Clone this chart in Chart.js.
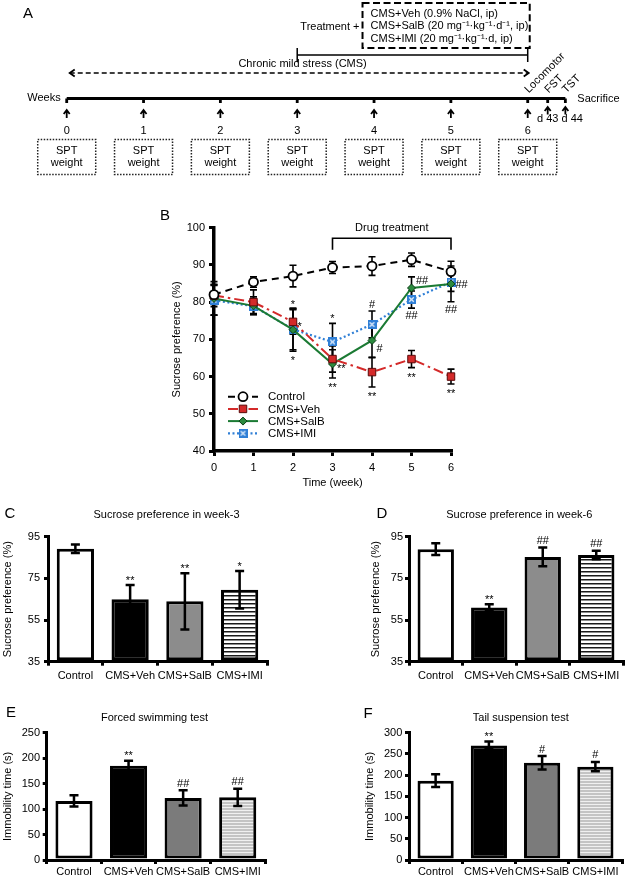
<!DOCTYPE html>
<html>
<head>
<meta charset="utf-8">
<title>CMS sucrose preference</title>
<script src="https://cdn.jsdelivr.net/npm/chart.js@4.4.1/dist/chart.umd.min.js"></script>
<style>
  html, body { margin: 0; padding: 0; background: #fff; }
  #page { position: relative; width: 630px; height: 878px; overflow: hidden; background: #fff; }
  #page canvas { position: absolute; }
</style>
</head>
<body>
<div id="page">
  <canvas id="panelA" width="630" height="180" style="left:0px;top:0px"></canvas>
  <canvas id="panelB" width="320" height="295" style="left:150px;top:200px"></canvas>
  <canvas id="panelC" width="290" height="190" style="left:0px;top:495px"></canvas>
  <canvas id="panelD" width="315" height="190" style="left:315px;top:495px"></canvas>
  <canvas id="panelE" width="290" height="188" style="left:0px;top:690px"></canvas>
  <canvas id="panelF" width="315" height="188" style="left:315px;top:690px"></canvas>
</div>
<script>
const FONT = '"Liberation Sans", Arial, sans-serif'
Chart.defaults.font.family = FONT
Chart.defaults.font.size = 11
Chart.defaults.color = '#000'
Chart.defaults.animation = false

// ---------- data ----------
const weeks = [0, 1, 2, 3, 4, 5, 6]
const groups = ['Control', 'CMS+Veh', 'CMS+SalB', 'CMS+IMI']

// A: protocol timeline
const cmsPeriod = [0, 6]
const treatmentPeriod = [3, 6]
const treatmentGroups = ['CMS+Veh (0.9% NaCl, ip)', 'CMS+SalB (20 mg\u207B\u00B9\u00B7kg\u207B\u00B9\u00B7d\u207B\u00B9, ip)', 'CMS+IMI (20 mg\u207B\u00B9\u00B7kg\u207B\u00B9\u00B7d, ip)']
const testNames = ['Locomotor', 'FST', 'TST']
const testWeek = [6, 6.26, 6.49]
const testDay = ['d 43', 'd 44']
const testDayAt = [6.26, 6.58]

// B: sucrose preference (%) per week, mean and SEM
const controlMean = [82, 85.4, 87, 89.3, 89.7, 91.4, 88.2]
const controlSem = [2.6, 1.4, 2.9, 1.6, 2.5, 1.8, 2.8]
const vehMean = [81.8, 80, 74.7, 64.7, 61.2, 64.7, 60]
const vehSem = [3, 3.3, 3.3, 3.5, 4, 2.3, 2]
const salbMean = [81, 79, 72.6, 63.4, 69.7, 83.8, 84.9]
const salbSem = [4.5, 2.4, 5.8, 3.8, 4.6, 3, 4.8]
const imiMean = [80.5, 78.9, 72.7, 69.3, 74, 80.7, 85.4]
const imiSem = [4, 2, 5.5, 5, 3.6, 2.3, 2.5]
const drugWeeks = [3, 6]

// B: significance marks (group index, week, text, where)
const weekSigGroup = [1, 1, 2, 3, 2, 2, 3, 2, 1, 2, 3, 1, 3, 2, 1]
const weekSigWeek = [2, 2, 2, 3, 3, 3, 4, 4, 4, 5, 5, 5, 6, 6, 6]
const weekSigText = ['*', '*', '*', '*', '**', '**', '#', '#', '**', '##', '##', '**', '##', '##', '**']
const weekSigPlace = ['above', 'right', 'below', 'above', 'right', 'below', 'above', 'lowRight', 'below', 'highRight', 'below', 'below', 'right', 'below', 'below']

// C - F: bar panels
const week3Mean = [89.2, 65, 64, 69.5]
const week3Sem = [2, 6.8, 13.5, 9]
const week3Sig = ['', '**', '**', '*']
const week6Mean = [89, 61, 85.3, 86.2]
const week6Sem = [2.8, 1.6, 4.5, 2]
const week6Sig = ['', '**', '##', '##']
const fstMean = [116, 185, 122, 123]
const fstSem = [11, 10, 15, 17]
const fstSig = ['', '**', '##', '##']
const tstMean = [187, 270, 229, 220]
const tstSem = [15, 9, 16, 11]
const tstSig = ['', '**', '#', '#']

// ---------- helpers ----------
function glyph(ctx, text, x, y, align) {
    ctx.textAlign = align || 'center'
    ctx.textBaseline = 'alphabetic'
    const m = ctx.measureText(text)
    ctx.fillText(text, x, y + (m.actualBoundingBoxAscent - m.actualBoundingBoxDescent) / 2)
}

function upArrow(ctx, x, top, bottom) {
    ctx.beginPath()
    ctx.moveTo(x, top)
    ctx.lineTo(x, bottom)
    ctx.moveTo(x - 3, top + 4)
    ctx.lineTo(x, top)
    ctx.lineTo(x + 3, top + 4)
    ctx.stroke()
}

function stripes(bg, fg, period, line) {
    const c = document.createElement('canvas')
    c.width = 8
    c.height = period
    const g = c.getContext('2d')
    g.fillStyle = bg
    g.fillRect(0, 0, 8, period)
    g.fillStyle = fg
    g.fillRect(0, 0, 8, line)
    return g.createPattern(c, 'repeat')
}

function imiMarker() {
    const c = document.createElement('canvas')
    c.width = 9
    c.height = 9
    const g = c.getContext('2d')
    g.fillStyle = '#2f7fd6'
    g.fillRect(0, 0, 9, 9)
    g.strokeStyle = '#d9e8f8'
    g.lineWidth = 1.4
    g.beginPath()
    g.moveTo(2.2, 2.2)
    g.lineTo(6.8, 6.8)
    g.moveTo(6.8, 2.2)
    g.lineTo(2.2, 6.8)
    g.stroke()
    return c
}

function marker(ctx, ds, x, y) {
    const r = ds.pointRadius
    ctx.save()
    ctx.setLineDash([])
    if (typeof ds.pointStyle !== 'string') {
        ctx.drawImage(ds.pointStyle, x - ds.pointStyle.width / 2, y - ds.pointStyle.height / 2)
        ctx.restore()
        return
    }
    ctx.fillStyle = ds.pointBackgroundColor
    ctx.strokeStyle = ds.pointBorderColor
    ctx.lineWidth = ds.pointBorderWidth
    ctx.beginPath()
    if (ds.pointStyle === 'circle') {
        ctx.arc(x, y, r, 0, Math.PI * 2)
    } else if (ds.pointStyle === 'rect') {
        const s = r * Math.SQRT1_2
        ctx.rect(x - s, y - s, 2 * s, 2 * s)
    } else {
        ctx.moveTo(x - r, y)
        ctx.lineTo(x, y - r)
        ctx.lineTo(x + r, y)
        ctx.lineTo(x, y + r)
        ctx.closePath()
    }
    ctx.fill()
    ctx.stroke()
    ctx.restore()
}

const axisBorder = { color: '#000', width: 3 }
const axisGrid = { drawOnChartArea: false, color: '#000', lineWidth: 3, tickWidth: 3, tickLength: 4 }

// ---------- A: timeline ----------
const timelinePlugin = {
    id: 'timeline',
    afterDraw(chart) {
        const ctx = chart.ctx
        const px = v => chart.scales.x.getPixelForValue(v)
        ctx.save()
        ctx.fillStyle = '#000'
        ctx.strokeStyle = '#000'

        ctx.font = '15px ' + FONT
        glyph(ctx, 'A', 28, 13)

        // treatment groups box
        const boxLeft = px(3.85)
        const boxRight = px(treatmentPeriod[1]) + 2
        ctx.lineWidth = 2
        ctx.setLineDash([7, 3.5])
        ctx.strokeRect(boxLeft, 3, boxRight - boxLeft, 45)
        ctx.setLineDash([])
        ctx.font = '11px ' + FONT
        ctx.textBaseline = 'middle'
        ctx.textAlign = 'left'
        treatmentGroups.forEach((t, i) => ctx.fillText(t, boxLeft + 8, 13.5 + i * 12.5))
        ctx.textAlign = 'right'
        ctx.fillText('Treatment +', boxLeft - 3, 27)

        // treatment bracket
        ctx.lineWidth = 1.5
        ctx.beginPath()
        ctx.moveTo(px(treatmentPeriod[0]), 55)
        ctx.lineTo(px(treatmentPeriod[1]), 55)
        treatmentPeriod.forEach(w => {
            ctx.moveTo(px(w), 48)
            ctx.lineTo(px(w), 62)
        })
        ctx.stroke()

        // chronic mild stress arrow
        ctx.textAlign = 'center'
        ctx.fillText('Chronic mild stress (CMS)', px(3.07), 63.5)
        const a0 = px(cmsPeriod[0]) + 3
        const a1 = px(cmsPeriod[1]) + 1
        ctx.setLineDash([5, 3])
        ctx.beginPath()
        ctx.moveTo(a0, 73)
        ctx.lineTo(a1, 73)
        ctx.stroke()
        ctx.setLineDash([])
        ctx.lineWidth = 1.8
        ctx.beginPath()
        ctx.moveTo(a0 + 5, 69.5)
        ctx.lineTo(a0, 73)
        ctx.lineTo(a0 + 5, 76.5)
        ctx.moveTo(a1 - 5, 69.5)
        ctx.lineTo(a1, 73)
        ctx.lineTo(a1 - 5, 76.5)
        ctx.stroke()

        // main time line
        const lineY = 98.5
        const end = px(testWeek[testWeek.length - 1])
        ctx.lineWidth = 2.8
        ctx.beginPath()
        ctx.moveTo(px(weeks[0]), lineY)
        ctx.lineTo(end, lineY)
        weeks.concat(testWeek.slice(1)).forEach(w => {
            ctx.moveTo(px(w), lineY)
            ctx.lineTo(px(w), lineY + 4.5)
        })
        ctx.stroke()
        ctx.textAlign = 'right'
        ctx.fillText('Weeks', px(weeks[0]) - 6, lineY - 0.5)
        ctx.textAlign = 'left'
        ctx.fillText('Sacrifice', end + 12, lineY)

        // week arrows, numbers and SPT boxes
        ctx.lineWidth = 1.8
        weeks.forEach(w => {
            const x = px(w)
            upArrow(ctx, x, 110, 118)
            ctx.textAlign = 'center'
            ctx.fillText(String(w), x, 130.5)
            ctx.save()
            ctx.lineWidth = 1.5
            ctx.strokeStyle = '#222'
            ctx.setLineDash([1.5, 1.5])
            ctx.strokeRect(x - 29, 139.5, 58, 35)
            ctx.restore()
            ctx.fillText('SPT', x, 150.5)
            ctx.fillText('weight', x, 163)
        })

        // behavioural tests
        testWeek.slice(1).forEach(w => upArrow(ctx, px(w), 107, 114.5))
        ctx.textAlign = 'center'
        testDay.forEach((d, i) => ctx.fillText(d, px(testDayAt[i]), 118.5))
        testNames.forEach((name, i) => {
            ctx.save()
            ctx.translate(px(testWeek[i]) + 1, 93.5)
            ctx.rotate(-Math.PI / 4)
            ctx.textAlign = 'left'
            ctx.textBaseline = 'alphabetic'
            ctx.fillText(name, 0, 0)
            ctx.restore()
        })
        ctx.restore()
    }
}

new Chart(document.getElementById('panelA'), {
    type: 'scatter',
    data: { datasets: [{ data: weeks.map(w => ({ x: w, y: 0 })), pointRadius: 0 }] },
    options: {
        responsive: false,
        events: [],
        layout: { padding: { left: 5.24, right: 2.4, top: 0, bottom: 0 } },
        scales: {
            x: { type: 'linear', display: false, min: -0.8, max: 7.3 },
            y: { display: false, min: 0, max: 1 },
        },
        plugins: { legend: { display: false }, tooltip: { enabled: false } },
    },
    plugins: [timelinePlugin],
})

// ---------- B: weekly sucrose preference ----------
const imiPoint = imiMarker()
const series = (label, mean, sem, style) => Object.assign({
    label: label,
    data: weeks.map((w, i) => ({ x: w, y: mean[i] })),
    sem: sem,
    borderWidth: 2,
    tension: 0,
    clip: false,
}, style)

const lineSets = [
    series('Control', controlMean, controlSem, { borderColor: '#000', borderDash: [7, 5], pointStyle: 'circle', pointRadius: 4.5, pointBackgroundColor: '#fff', pointBorderColor: '#000', pointBorderWidth: 1.8 }),
    series('CMS+Veh', vehMean, vehSem, { borderColor: '#d42a2a', borderDash: [10, 4, 2.5, 4], pointStyle: 'rect', pointRadius: 5.3, pointBackgroundColor: '#d42a2a', pointBorderColor: '#5a0a0a', pointBorderWidth: 1 }),
    series('CMS+SalB', salbMean, salbSem, { borderColor: '#1b7a33', pointStyle: 'rectRot', pointRadius: 4, pointBackgroundColor: '#2b8a3e', pointBorderColor: '#0b3d16', pointBorderWidth: 1 }),
    series('CMS+IMI', imiMean, imiSem, { borderColor: '#2f7fd6', borderDash: [2, 2.5], borderWidth: 2.2, pointStyle: imiPoint, pointRadius: 4.5 }),
]

const weeklyExtras = {
    id: 'weeklyExtras',
    beforeDatasetsDraw(chart) {
        const ctx = chart.ctx
        const x = chart.scales.x
        const y = chart.scales.y
        ctx.save()
        ctx.strokeStyle = '#000'
        ctx.lineWidth = 1.6
        chart.data.datasets.forEach(ds => {
            ds.data.forEach((p, i) => {
                const px = x.getPixelForValue(p.x)
                const top = y.getPixelForValue(p.y + ds.sem[i])
                const bottom = y.getPixelForValue(p.y - ds.sem[i])
                ctx.beginPath()
                ctx.moveTo(px, top)
                ctx.lineTo(px, bottom)
                ctx.moveTo(px - 3.5, top)
                ctx.lineTo(px + 3.5, top)
                ctx.moveTo(px - 3.5, bottom)
                ctx.lineTo(px + 3.5, bottom)
                ctx.stroke()
            })
        })
        ctx.restore()
    },
    afterDraw(chart) {
        const ctx = chart.ctx
        const x = chart.scales.x
        const y = chart.scales.y
        const area = chart.chartArea
        ctx.save()
        ctx.fillStyle = '#000'
        ctx.strokeStyle = '#000'

        ctx.font = '15px ' + FONT
        glyph(ctx, 'B', 15, 15)

        // drug treatment bracket
        const b0 = x.getPixelForValue(drugWeeks[0])
        const b1 = x.getPixelForValue(drugWeeks[1])
        ctx.lineWidth = 1.6
        ctx.beginPath()
        ctx.moveTo(b0, area.top + 22)
        ctx.lineTo(b0, area.top + 10.5)
        ctx.lineTo(b1, area.top + 10.5)
        ctx.lineTo(b1, area.top + 22)
        ctx.stroke()
        ctx.font = '11px ' + FONT
        ctx.textAlign = 'center'
        ctx.textBaseline = 'middle'
        ctx.fillText('Drug treatment', (b0 + b1) / 2, area.top)

        // significance marks
        weekSigText.forEach((t, k) => {
            const ds = chart.data.datasets[weekSigGroup[k]]
            const i = weeks.indexOf(weekSigWeek[k])
            const m = ds.data[i].y
            const px = x.getPixelForValue(weekSigWeek[k])
            const place = weekSigPlace[k]
            if (place === 'above') glyph(ctx, t, px, y.getPixelForValue(m + ds.sem[i]) - 7.5)
            else if (place === 'below') glyph(ctx, t, px, y.getPixelForValue(m - ds.sem[i]) + 7)
            else {
                const dy = place === 'lowRight' ? 7.5 : place === 'highRight' ? -8 : 2
                glyph(ctx, t, px + 4.5, y.getPixelForValue(m) + dy, 'left')
            }
        })

        // legend
        chart.data.datasets.forEach((ds, k) => {
            const ly = area.top + 169 + k * 12.2
            const lx = area.left + 14
            ctx.save()
            ctx.strokeStyle = ds.borderColor
            ctx.lineWidth = ds.borderWidth
            ctx.setLineDash(ds.borderDash || [])
            ctx.beginPath()
            ctx.moveTo(lx, ly)
            ctx.lineTo(lx + 30, ly)
            ctx.stroke()
            ctx.restore()
            marker(ctx, ds, lx + 15, ly)
            ctx.font = '11.5px ' + FONT
            ctx.textAlign = 'left'
            ctx.textBaseline = 'middle'
            ctx.fillText(ds.label, lx + 40, ly + 0.5)
        })
        ctx.restore()
    }
}

new Chart(document.getElementById('panelB'), {
    type: 'line',
    data: { datasets: lineSets },
    options: {
        responsive: false,
        events: [],
        layout: { padding: { left: 20, top: 27.7, right: 19, bottom: 5 } },
        scales: {
            x: {
                type: 'linear', min: 0, max: 6,
                border: { color: '#000', width: 3.5 },
                grid: Object.assign({}, axisGrid, { tickLength: 5 }),
                ticks: { stepSize: 1, padding: 5 },
                title: { display: true, text: 'Time (week)', padding: 0 },
                afterFit: s => { s.height = 39 },
            },
            y: {
                min: 40, max: 100,
                border: { color: '#000', width: 3.5 },
                grid: Object.assign({}, axisGrid, { tickLength: 5 }),
                ticks: { stepSize: 10, padding: 4 },
                title: { display: true, text: 'Sucrose preference (%)', padding: 0 },
                afterFit: s => { s.width = 44 },
            },
        },
        plugins: { legend: { display: false }, tooltip: { enabled: false } },
    },
    plugins: [weeklyExtras],
})

// ---------- C - F: bar panels ----------
const barExtras = {
    id: 'barExtras',
    afterDatasetsDraw(chart, args, opts) {
        const ctx = chart.ctx
        const y = chart.scales.y
        const ds = chart.data.datasets[0]
        ctx.save()
        ctx.strokeStyle = '#000'
        ctx.fillStyle = '#000'
        ctx.lineWidth = 2.5
        chart.getDatasetMeta(0).data.forEach((bar, i) => {
            const top = y.getPixelForValue(ds.data[i] + ds.sem[i])
            const bottom = y.getPixelForValue(ds.data[i] - ds.sem[i])
            ctx.beginPath()
            ctx.moveTo(bar.x, top)
            ctx.lineTo(bar.x, bottom)
            ctx.moveTo(bar.x - 4.5, top)
            ctx.lineTo(bar.x + 4.5, top)
            ctx.moveTo(bar.x - 4.5, bottom)
            ctx.lineTo(bar.x + 4.5, bottom)
            ctx.stroke()
            if (ds.sig[i]) {
                ctx.font = '11px ' + FONT
                glyph(ctx, ds.sig[i], bar.x, top - 7.5)
            }
        })
        ctx.font = '15px ' + FONT
        glyph(ctx, opts.letter, opts.letterX, opts.letterY)
        ctx.font = '11px ' + FONT
        ctx.textAlign = 'center'
        ctx.textBaseline = 'middle'
        ctx.fillText(opts.title, opts.titleX, opts.titleY)
        ctx.restore()
    }
}

function barPanel(id, cfg) {
    return new Chart(document.getElementById(id), {
        type: 'bar',
        data: {
            labels: groups,
            datasets: [{
                data: cfg.mean,
                sem: cfg.sem,
                sig: cfg.sig,
                base: cfg.min,
                backgroundColor: cfg.fills,
                borderColor: '#000',
                borderWidth: 3,
                borderSkipped: false,
                barPercentage: 0.68,
                categoryPercentage: 1,
            }]
        },
        options: {
            responsive: false,
            events: [],
            layout: { padding: cfg.padding },
            scales: {
                x: {
                    border: axisBorder,
                    grid: Object.assign({}, axisGrid, { offset: true }),
                    ticks: { padding: cfg.xPad, autoSkip: false, maxRotation: 0, minRotation: 0 },
                    afterFit: s => { s.height = cfg.xHeight },
                },
                y: {
                    min: cfg.min, max: cfg.max,
                    border: axisBorder,
                    grid: axisGrid,
                    ticks: { stepSize: cfg.step, padding: cfg.yPad },
                    title: { display: true, text: cfg.yTitle, padding: 0 },
                    afterFit: s => { s.width = cfg.yWidth },
                },
            },
            plugins: {
                legend: { display: false },
                tooltip: { enabled: false },
                barExtras: cfg.text,
            },
        },
        plugins: [barExtras],
    })
}

const sucroseFills = ['#fff', '#000', '#8c8c8c', stripes('#fff', '#1a1a1a', 4, 1.5)]
const immobilityFills = ['#fff', '#000', '#7b7b7b', stripes('#c4c4c4', '#f0f0f0', 3, 1)]

barPanel('panelC', {
    mean: week3Mean, sem: week3Sem, sig: week3Sig, fills: sucroseFills,
    min: 35, max: 95, step: 20, yTitle: 'Sucrose preference (%)',
    padding: { left: 1.4, top: 41.7, right: 23, bottom: 3.3 },
    yWidth: 46.6, xHeight: 20, xPad: 3.5, yPad: 4,
    text: { letter: 'C', letterX: 10, letterY: 18.3, title: 'Sucrose preference in week-3', titleX: 166.5, titleY: 20 },
})

barPanel('panelD', {
    mean: week6Mean, sem: week6Sem, sig: week6Sig, fills: sucroseFills,
    min: 35, max: 95, step: 20, yTitle: 'Sucrose preference (%)',
    padding: { left: 54.4, top: 41.7, right: 7, bottom: 3.3 },
    yWidth: 39.6, xHeight: 20, xPad: 3.5, yPad: 2,
    text: { letter: 'D', letterX: 67, letterY: 18.3, title: 'Sucrose preference in week-6', titleX: 204.3, titleY: 20 },
})

barPanel('panelE', {
    mean: fstMean, sem: fstSem, sig: fstSig, fills: immobilityFills,
    min: 0, max: 250, step: 50, yTitle: 'Immobility time (s)',
    padding: { left: 1.4, top: 42.7, right: 25, bottom: 0 },
    yWidth: 45.3, xHeight: 18, xPad: 1, yPad: 2.7,
    text: { letter: 'E', letterX: 11, letterY: 21.7, title: 'Forced swimming test', titleX: 154.5, titleY: 28 },
})

barPanel('panelF', {
    mean: tstMean, sem: tstSem, sig: tstSig, fills: immobilityFills,
    min: 0, max: 300, step: 50, yTitle: 'Immobility time (s)',
    padding: { left: 48.4, top: 42.7, right: 8, bottom: 0 },
    yWidth: 45.6, xHeight: 18, xPad: 1, yPad: 2.7,
    text: { letter: 'F', letterX: 53, letterY: 23.3, title: 'Tail suspension test', titleX: 205.8, titleY: 28 },
})
</script>
</body>
</html>
